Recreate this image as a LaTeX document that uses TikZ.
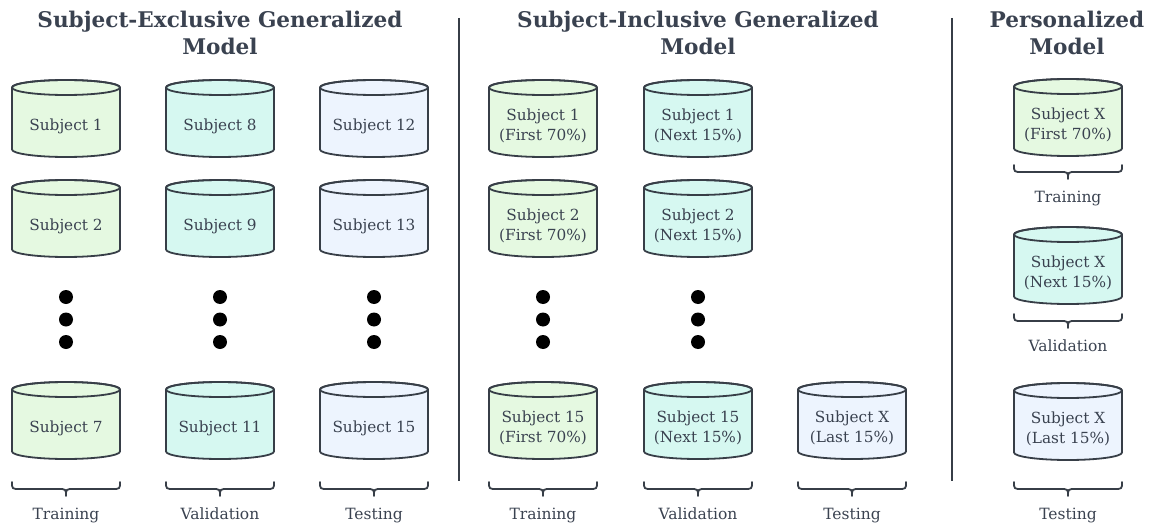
\documentclass[tikz,border=0pt]{standalone}
\usepackage{fontspec}
\setmainfont{DejaVu Serif}
\definecolor{ink}{HTML}{373E47}
\definecolor{txt}{HTML}{3A4250}
\definecolor{gfill}{HTML}{E5F9E1}
\definecolor{tfill}{HTML}{D6F8F1}
\definecolor{bfill}{HTML}{EDF4FE}
\tikzset{
  cylbody/.style={draw=ink, line width=1.8pt, line join=round},
  cyltext/.style={text=txt, align=center, font=\fontsize{15.3}{19.5}\selectfont, inner sep=0pt},
  title/.style={text=txt, align=center, font=\fontsize{21.6}{27}\selectfont\bfseries, inner sep=0pt},
  lbl/.style={text=txt, font=\fontsize{15.5}{18}\selectfont, inner sep=0pt},
  brc/.style={draw=ink, line width=1.8pt, line cap=round, line join=round},
  sep/.style={draw=ink, line width=2pt},
  dotm/.style={circle, fill=black, minimum size=14pt, inner sep=0pt},
}
% name, cx, top, fill, text
\newcommand{\cylnode}[5]{%
  \path[cylbody, fill=#4] (#2-54,#3+7.5) -- (#2-54,#3+69.5)
    arc[start angle=180, end angle=0, x radius=54, y radius=7.5]
    -- (#2+54,#3+7.5)
    arc[start angle=0, end angle=-180, x radius=54, y radius=7.5] -- cycle;
  \draw[cylbody] (#2,#3+7.5) ellipse [x radius=54, y radius=7.5];
  \node[cyltext] (#1) at (#2,#3+46) {#5};
}
% name, cx, top y, text
\newcommand{\brlabel}[4]{%
  \draw[brc] (#2-54,#3) .. controls (#2-54,#3+7) .. (#2-46,#3+7) -- (#2-8,#3+7)
    .. controls (#2,#3+7) .. (#2,#3+14) .. controls (#2,#3+7) .. (#2+8,#3+7)
    -- (#2+46,#3+7) .. controls (#2+54,#3+7) .. (#2+54,#3);
  \node[lbl, anchor=base] (#1) at (#2,#3+37) {#4};
}
\newcommand{\dotcol}[2]{%
  \node[dotm] (#1a) at (#2,297) {};
  \node[dotm] (#1b) at (#2,319.5) {};
  \node[dotm] (#1c) at (#2,342) {};
}
\begin{document}
\begin{tikzpicture}[x=1pt, y=-1pt]
\useasboundingbox (0,0) rectangle (1154,527);

% titles
\node[title] (t1) at (220,33) {Subject-Exclusive Generalized\\Model};
\node[title] (t2) at (698,33) {Subject-Inclusive Generalized\\Model};
\node[title] (t3) at (1067,33) {Personalized\\Model};

% separators
\coordinate (s1a) at (459,18); \coordinate (s1b) at (459,481);
\coordinate (s2a) at (952,18); \coordinate (s2b) at (952,481);
\draw[sep] (s1a) -- (s1b);
\draw[sep] (s2a) -- (s2b);

% section 1
\cylnode{a1}{66}{80}{gfill}{Subject 1}
\cylnode{a2}{66}{180}{gfill}{Subject 2}
\cylnode{a3}{66}{382}{gfill}{Subject 7}
\cylnode{b1}{220}{80}{tfill}{Subject 8}
\cylnode{b2}{220}{180}{tfill}{Subject 9}
\cylnode{b3}{220}{382}{tfill}{Subject 11}
\cylnode{c1}{374}{80}{bfill}{Subject 12}
\cylnode{c2}{374}{180}{bfill}{Subject 13}
\cylnode{c3}{374}{382}{bfill}{Subject 15}
\dotcol{da}{66}
\dotcol{db}{220}
\dotcol{dc}{374}
\brlabel{la}{66}{482}{Training}
\brlabel{lb}{220}{482}{Validation}
\brlabel{lc}{374}{482}{Testing}

% section 2
\cylnode{m1}{543}{80}{gfill}{Subject 1\\(First 70\%)}
\cylnode{m2}{543}{180}{gfill}{Subject 2\\(First 70\%)}
\cylnode{m3}{543}{382}{gfill}{Subject 15\\(First 70\%)}
\cylnode{n1}{698}{80}{tfill}{Subject 1\\(Next 15\%)}
\cylnode{n2}{698}{180}{tfill}{Subject 2\\(Next 15\%)}
\cylnode{n3}{698}{382}{tfill}{Subject 15\\(Next 15\%)}
\cylnode{o3}{852}{382}{bfill}{Subject X\\(Last 15\%)}
\dotcol{dm}{543}
\dotcol{dn}{698}
\brlabel{lm}{543}{482}{Training}
\brlabel{ln}{698}{482}{Validation}
\brlabel{lo}{852}{482}{Testing}

% section 3
\cylnode{p1}{1068}{79}{gfill}{Subject X\\(First 70\%)}
\cylnode{p2}{1068}{227}{tfill}{Subject X\\(Next 15\%)}
\cylnode{p3}{1068}{383}{bfill}{Subject X\\(Last 15\%)}
\brlabel{lp1}{1068}{165}{Training}
\brlabel{lp2}{1068}{314}{Validation}
\brlabel{lp3}{1068}{482}{Testing}
\end{tikzpicture}
\end{document}
